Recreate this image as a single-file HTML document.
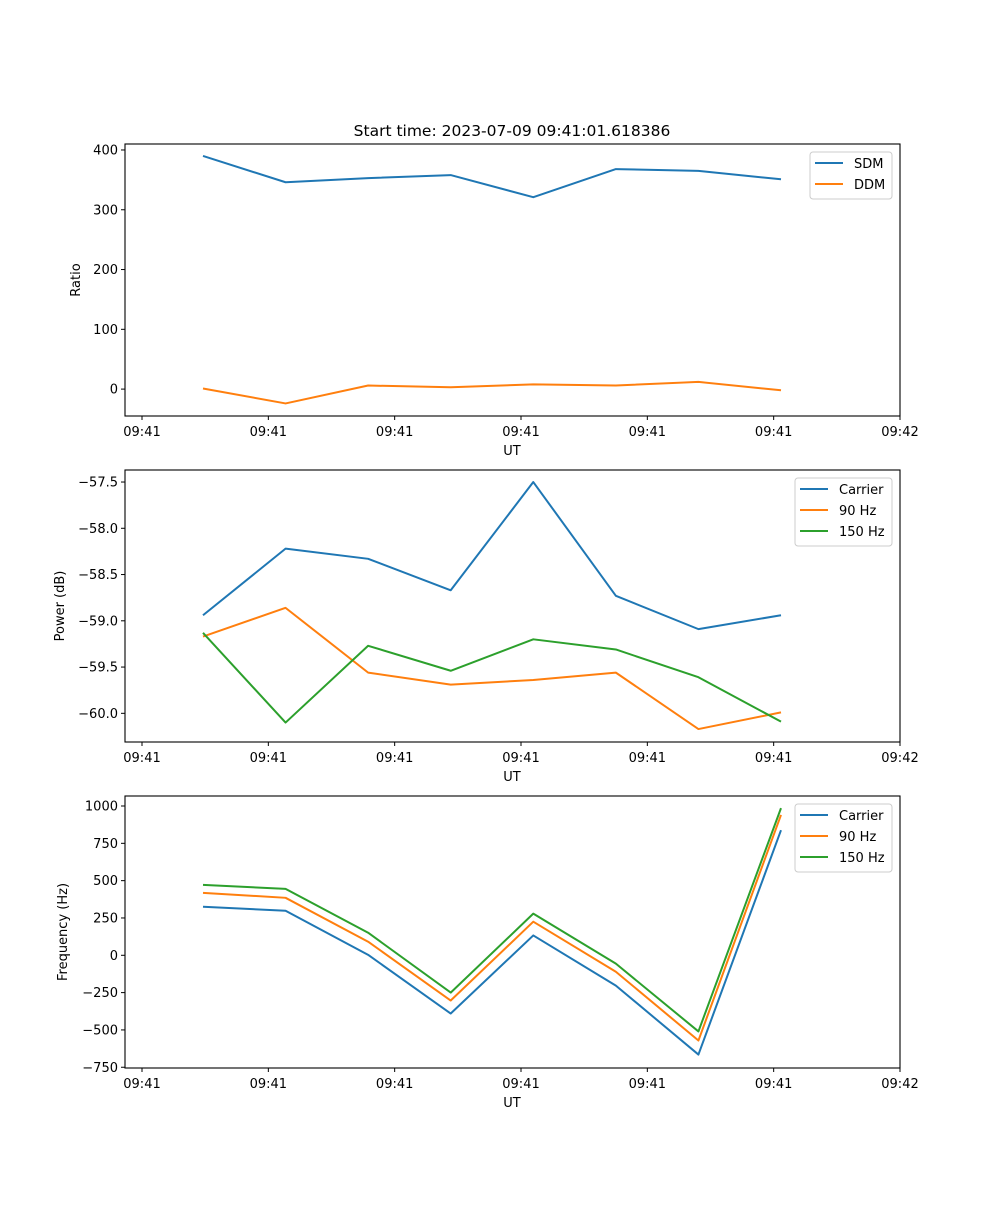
<!DOCTYPE html>
<html><head><meta charset="utf-8"><style>
body{margin:0;background:#fff;}
svg text{font-family:"DejaVu Sans","Liberation Sans",sans-serif;font-size:13px;fill:#000;}
</style></head><body>
<svg id="fig" width="1000" height="1200" viewBox="0 0 1000 1200" xmlns="http://www.w3.org/2000/svg">
<text x="512" y="136" text-anchor="middle" style="font-size:15.5px">Start time: 2023-07-09 09:41:01.618386</text>
</svg>
<script>
const xTickLabels = ["09:41","09:41","09:41","09:41","09:41","09:41","09:42"];
const xIdx = [0,1,2,3,4,5,6,7];
const sdm = [390,346,353,358,321,368,365,351];
const ddm = [1,-24,6,3,8,6,12,-2];
const pCarrier = [-58.94,-58.22,-58.33,-58.67,-57.5,-58.73,-59.09,-58.94];
const p90 = [-59.17,-58.86,-59.56,-59.69,-59.64,-59.56,-60.17,-59.99];
const p150 = [-59.13,-60.10,-59.27,-59.54,-59.20,-59.31,-59.61,-60.09];
const fCarrier = [325,298,3,-390,133,-203,-665,838];
const f90 = [418,385,91,-303,225,-110,-571,940];
const f150 = [472,445,151,-250,279,-56,-510,986];
const ticks1 = [0,100,200,300,400];
const ticks2 = [-60.0,-59.5,-59.0,-58.5,-58.0,-57.5];
const ticks3 = [-750,-500,-250,0,250,500,750,1000];

const NS="http://www.w3.org/2000/svg";
const svg=document.getElementById('fig');
const C={blue:'#1f77b4',orange:'#ff7f0e',green:'#2ca02c'};
function el(t,a,p){const e=document.createElementNS(NS,t);for(const k in a)e.setAttribute(k,a[k]);(p||svg).appendChild(e);return e;}
const L=125,R=900;
// x: index 0 -> 203, index 7 -> 781; ticks at 142 + k*126.3
function xs(i){return 203+i*(781-203)/7;}
function panel(name,top,bottom,ymin,ymax,ticks,fmt,ylabel,series,legend){
  const g=el('g',{});
  
  
  const ys=v=>bottom-(v-ymin)/(ymax-ymin)*(bottom-top);
  series.forEach(s=>{
    const pl=el('polyline',{points:s.v.map((v,i)=>xs(xIdx[i])+','+ys(v)).join(' '),fill:'none',stroke:s.c,'stroke-width':2,'stroke-linejoin':'round'},g);
    
    
  });
  el('rect',{x:L,y:top,width:R-L,height:bottom-top,fill:'none',stroke:'#000','stroke-width':1.1},g);
  xTickLabels.forEach((t,k)=>{const x=142+k*(900-142)/6;
    el('line',{x1:x,x2:x,y1:bottom,y2:bottom+4,stroke:'#000'},g);
    const tx=el('text',{x:x,y:bottom+20,'text-anchor':'middle'},g);tx.textContent=t;
    
    });
  ticks.forEach(v=>{const y=ys(v);
    el('line',{x1:L-4,x2:L,y1:y,y2:y,stroke:'#000'},g);
    const tx=el('text',{x:L-7,y:y+4.5,'text-anchor':'end'},g);tx.textContent=fmt(v);
    
    });
  const xl=el('text',{x:512,y:bottom+39,'text-anchor':'middle'},g);xl.textContent='UT';
  
  
  const yl=el('text',{x:0,y:0,'text-anchor':'middle',transform:`translate(${legend.yx},${(top+bottom)/2}) rotate(-90)`},g);yl.textContent=ylabel;
  
  
  const lg=el('g',{},g);
  
  
  el('rect',{x:legend.x,y:top+8,width:R-8-legend.x,height:series.length*21+5,rx:3,fill:'#fff',stroke:'#ccc'},lg);
  series.forEach((s,i)=>{const y=top+19+i*21;
    el('line',{x1:legend.x+5,x2:legend.x+33,y1:y,y2:y,stroke:s.c,'stroke-width':2},lg);
    const t=el('text',{x:legend.x+44,y:y+5},lg);t.textContent=s.label;
    
    });
}
const neg=v=>v<0?'\u2212'+Math.abs(v):''+v;
panel('ratio-panel',144,416,-45,410,ticks1,v=>neg(v),'Ratio',
  [{v:sdm,c:C.blue,n:'sdm-line',label:'SDM'},{v:ddm,c:C.orange,n:'ddm-line',label:'DDM'}],{x:810,yx:80});
panel('power-panel',470,742,-60.31,-57.37,ticks2,v=>'\u2212'+Math.abs(v).toFixed(1),'Power (dB)',
  [{v:pCarrier,c:C.blue,n:'carrier-power-line',label:'Carrier'},{v:p90,c:C.orange,n:'90hz-power-line',label:'90 Hz'},{v:p150,c:C.green,n:'150hz-power-line',label:'150 Hz'}],{x:795,yx:64});
panel('frequency-panel',796,1068,-755,1067,ticks3,v=>neg(v),'Frequency (Hz)',
  [{v:fCarrier,c:C.blue,n:'carrier-frequency-line',label:'Carrier'},{v:f90,c:C.orange,n:'90hz-frequency-line',label:'90 Hz'},{v:f150,c:C.green,n:'150hz-frequency-line',label:'150 Hz'}],{x:795,yx:67});
</script>
</body></html>
